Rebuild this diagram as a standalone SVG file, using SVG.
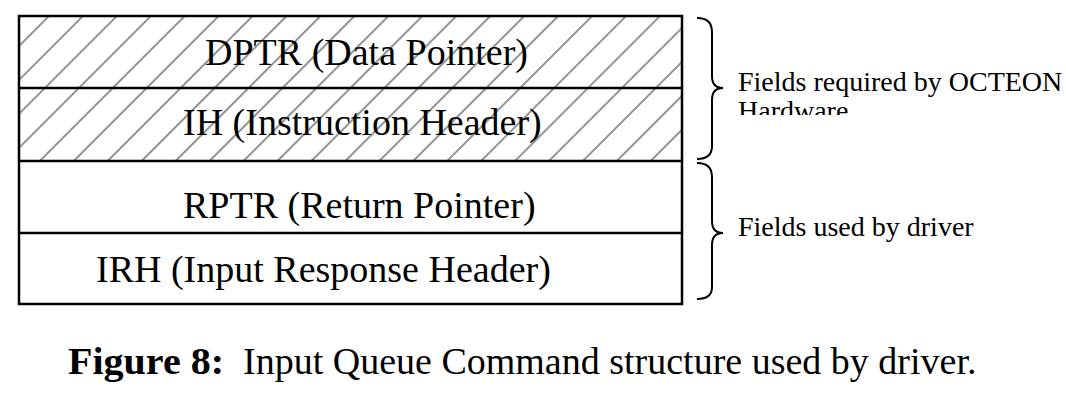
<svg xmlns="http://www.w3.org/2000/svg" width="1066" height="407" viewBox="0 0 1066 407">
<style>
.t{font-family:"Liberation Serif","Times New Roman",serif;fill:#000}
.cell{font-size:38px}
.lbl{font-size:28px}
.cap{font-size:38px}
.b{stroke:#000;stroke-width:2.5;fill:none}
.br{stroke:#000;stroke-width:2;fill:none}
</style>
<defs>
<pattern id="hatch" patternUnits="userSpaceOnUse" width="24" height="24" patternTransform="rotate(45)">
<line x1="22" y1="-2" x2="22" y2="26" stroke="#3a3a3a" stroke-width="1.1"/>
</pattern>
<clipPath id="clipHw"><rect x="730" y="95" width="336" height="20"/></clipPath>
</defs>
<rect width="1066" height="407" fill="#fff"/>
<g id="dptr">
<rect x="19" y="16" width="663" height="72" fill="url(#hatch)"/>
<text class="t cell" x="205" y="65">DPTR (Data Pointer)</text>
</g>
<g id="ih">
<rect x="19" y="88" width="663" height="73" fill="url(#hatch)"/>
<text class="t cell" x="183" y="135">IH (Instruction Header)</text>
</g>
<g id="rptr">
<text class="t cell" x="183" y="218">RPTR (Return Pointer)</text>
</g>
<g id="irh">
<text class="t cell" x="96" y="282">IRH (Input Response Header)</text>
</g>
<g id="frame">
<rect class="b" x="19" y="16" width="663" height="288"/>
<line class="b" x1="19" y1="88" x2="682" y2="88"/>
<line class="b" x1="19" y1="161" x2="682" y2="161"/>
<line class="b" x1="19" y1="233" x2="682" y2="233"/>
</g>
<g id="connectors">
<path class="br" d="M697,18 C707,18 712,22 712,32 L712,76 C712,84 716,88 723,88 C716,88 712,92 712,100 L712,146 C712,154 707,159 697,159"/>
<path class="br" d="M697,163 C707,163 712,167 712,177 L712,221 C712,229 716,233 723,233 C716,233 712,237 712,245 L712,287 C712,295 707,299 697,299"/>
</g>
<g id="label-hw">
<text class="t lbl" x="738" y="91">Fields required by OCTEON</text>
<text class="t lbl" x="738" y="120" clip-path="url(#clipHw)">Hardware</text>
</g>
<g id="label-drv">
<text class="t lbl" x="738" y="236">Fields used by driver</text>
</g>
<g id="caption">
<text class="t cap" x="68" y="374" font-weight="bold" textLength="156" lengthAdjust="spacingAndGlyphs">Figure 8:</text>
<text class="t cap" x="243" y="374">Input Queue Command structure used by driver.</text>
</g>
</svg>
